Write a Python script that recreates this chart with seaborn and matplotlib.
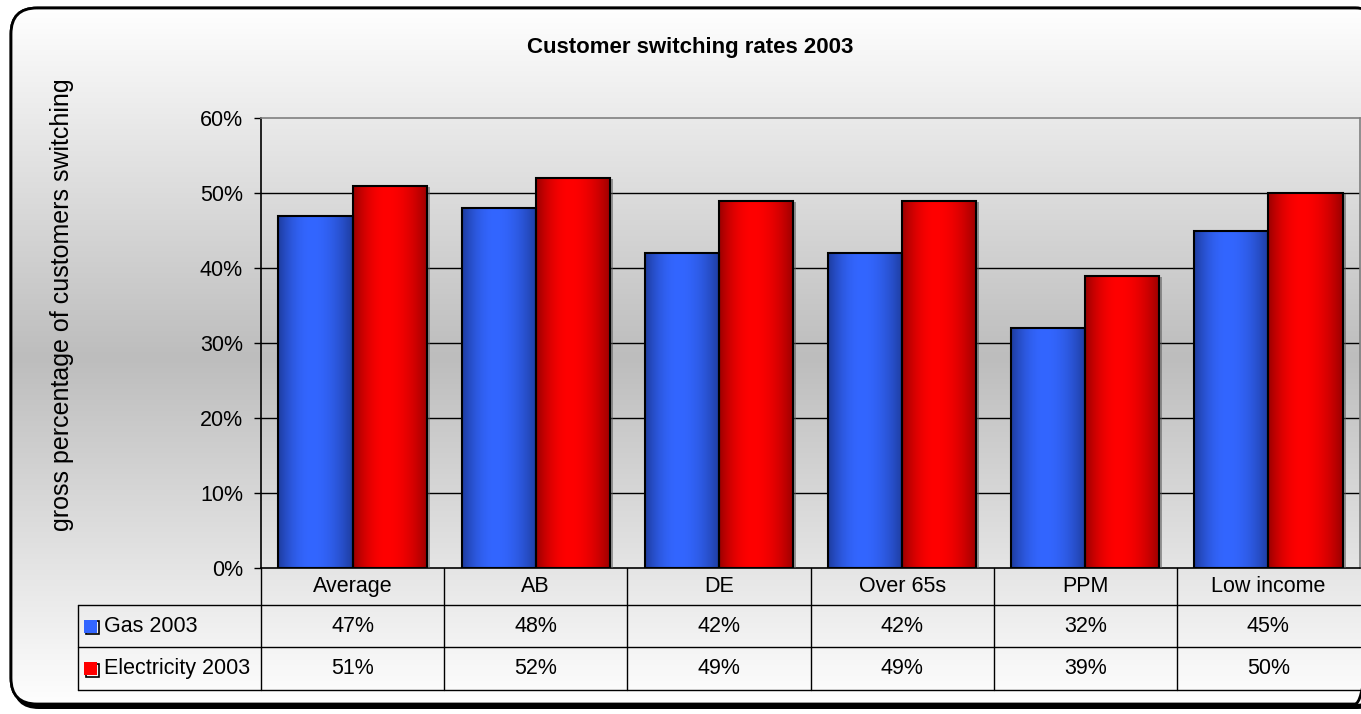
import numpy as np
import pandas as pd
import matplotlib
matplotlib.use("Agg")
import matplotlib.pyplot as plt
import matplotlib.transforms as mtransforms
from matplotlib.patches import FancyBboxPatch, Rectangle
from matplotlib.colors import to_rgb
import seaborn as sns

# ---- data ----
categories = ["Average", "AB", "DE", "Over 65s", "PPM", "Low income"]
series_names = ["Gas 2003", "Electricity 2003"]
gas_2003 = [47, 48, 42, 42, 32, 45]
electricity_2003 = [51, 52, 49, 49, 39, 50]
y_ticks = [0, 10, 20, 30, 40, 50, 60]

title = "Customer switching rates 2003"
y_label = "gross percentage of customers switching"

# ---- style ----
BLUE, BLUE_DARK = "#3366FF", "#1E3C9E"
RED, RED_DARK = "#FF0000", "#9A0000"
W, H = 1361, 714
FS = 15.5

sns.set_theme(style="white")
plt.rcParams["font.family"] = ["Liberation Sans", "DejaVu Sans"]
plt.rcParams["text.color"] = "black"
plt.rcParams["ytick.color"] = "black"
plt.rcParams["xtick.color"] = "black"
plt.rcParams["axes.labelcolor"] = "black"

fig = plt.figure(figsize=(W / 100, H / 100), dpi=100)
fig.patch.set_facecolor("white")

# background canvas in pixel units: rounded frame with a vertical grey gradient
bg = fig.add_axes([0, 0, 1, 1], zorder=0)
bg.set_xlim(0, W)
bg.set_ylim(H, 0)
bg.axis("off")

box = dict(boxstyle="round,pad=0,rounding_size=26")
frame_shadow = FancyBboxPatch((13, 12), 1370, 697, **box, facecolor="black",
                              edgecolor="none", zorder=1)
frame = FancyBboxPatch((11, 8), 1370, 696, **box, facecolor="white",
                       edgecolor="black", linewidth=2, zorder=2)
bg.add_patch(frame_shadow)
bg.add_patch(frame)
rows = np.arange(H)
t = np.clip(1 - np.abs(rows - 357) / 350.0, 0, 1)
gray = (255 - 66 * t) / 255.0
grad_img = np.repeat(gray[:, None, None], 3, axis=2)
im_bg = bg.imshow(grad_img, extent=(0, W, H, 0), aspect="auto", zorder=2.5,
                  interpolation="bilinear")
im_bg.set_clip_path(frame)
frame_edge = FancyBboxPatch((11, 8), 1370, 696, **box, facecolor="none",
                            edgecolor="black", linewidth=2, zorder=3)
bg.add_patch(frame_edge)

# ---- plot area ----
left, right, top, bottom = 261, 1360, 118, 568
ax = fig.add_axes([left / W, 1 - bottom / H, (right - left) / W, (bottom - top) / H],
                  zorder=2)
ax.patch.set_alpha(0)

df = pd.DataFrame({
    "category": categories * 2,
    "series": [s for s in series_names for _ in categories],
    "value": gas_2003 + electricity_2003,
})
sns.barplot(data=df, x="category", y="value", hue="series", order=categories,
            hue_order=series_names, palette=[BLUE, RED], saturation=1,
            edgecolor="black", linewidth=1.5, width=0.81, legend=False,
            errorbar=None, ax=ax, zorder=4)


def cylinder(dark, bright, n=96):
    x = np.linspace(0, 1, n)
    peak = 0.45
    f = np.where(x < peak, 1 - ((peak - x) / peak) ** 2, 1 - ((x - peak) / (1 - peak)) ** 2)
    d, b = np.array(to_rgb(dark)), np.array(to_rgb(bright))
    return (d[None, :] + (b - d)[None, :] * f[:, None])[None, :, :]


shade = [cylinder(BLUE_DARK, BLUE), cylinder(RED_DARK, RED)]
shadow_offset = mtransforms.ScaledTranslation(3 / 100, -1 / 100, fig.dpi_scale_trans)
for container, grad in zip(ax.containers, shade):
    for bar in container:
        x0, w, h = bar.get_x(), bar.get_width(), bar.get_height()
        ax.add_patch(Rectangle((x0, 0), w, h, facecolor="#555555", alpha=0.55,
                               edgecolor="none", zorder=3,
                               transform=ax.transData + shadow_offset))
        img = ax.imshow(grad, extent=(x0, x0 + w, 0, h), aspect="auto",
                        interpolation="bilinear", zorder=3.5)
        img.set_clip_path(bar)
        bar.set_facecolor("none")

for v in y_ticks[1:-1]:
    ax.axhline(v, color="black", linewidth=1, zorder=1)

ax.set_xlim(-0.5, len(categories) - 0.5)
ax.set_ylim(y_ticks[0], y_ticks[-1])
ax.set_yticks(y_ticks)
ax.set_yticklabels([f"{v}%" for v in y_ticks], fontsize=FS, color="black")
ax.tick_params(axis="y", left=True, direction="out", length=5, width=1,
               color="black", pad=8)
ax.set_xticks([])
ax.set_xlabel("")
ax.set_ylabel("")
for side in ["left", "bottom"]:
    ax.spines[side].set_color("black")
    ax.spines[side].set_linewidth(1.2)
for side in ["top", "right"]:
    ax.spines[side].set_color("#808080")
    ax.spines[side].set_linewidth(1.2)

# ---- data table under the axis ----
tt = mtransforms.blended_transform_factory(ax.transData, ax.transAxes)
plot_h = bottom - top
row_edges = [(bottom - p) / plot_h for p in (568, 605, 647, 690)]
x_left = -1.5
x_right = len(categories) - 0.5
line_kw = dict(color="black", linewidth=1, transform=tt, clip_on=False, zorder=5)

for y in row_edges[1:]:
    ax.plot([x_left, x_right], [y, y], **line_kw)
ax.plot([x_left, x_left], [row_edges[1], row_edges[3]], **line_kw)
for i in range(len(categories)):
    ax.plot([i - 0.5, i - 0.5], [row_edges[0], row_edges[3]], **line_kw)

mid = [(row_edges[k] + row_edges[k + 1]) / 2 for k in range(3)]
for i, cat in enumerate(categories):
    ax.text(i, mid[0], cat, ha="center", va="center", fontsize=FS,
            transform=tt, clip_on=False, color="black")
for row, values in zip(mid[1:], [gas_2003, electricity_2003]):
    for i, v in enumerate(values):
        ax.text(i, row, f"{v}%", ha="center", va="center", fontsize=FS,
                transform=tt, clip_on=False, color="black")

key_w = 13 / ((right - left) / len(categories))
key_h = 13 / plot_h
shadow_key = mtransforms.ScaledTranslation(1.5 / 100, -1.5 / 100, fig.dpi_scale_trans)
for row, name, col in zip(mid[1:], series_names, [BLUE, RED]):
    ax.add_patch(Rectangle((x_left + 0.035, row - key_h / 2), key_w, key_h,
                           facecolor="none", edgecolor="black", linewidth=1.2,
                           transform=tt + shadow_key, clip_on=False, zorder=6))
    ax.add_patch(Rectangle((x_left + 0.035, row - key_h / 2), key_w, key_h,
                           facecolor=col, edgecolor="none",
                           transform=tt, clip_on=False, zorder=6))
    ax.text(x_left + 0.145, row, name, ha="left", va="center", fontsize=FS,
            transform=tt, clip_on=False, color="black")

# ---- titles ----
fig.text(690 / W, 1 - 47 / H, title, ha="center", va="center", fontsize=16,
         fontweight="bold", color="black")
fig.text(62 / W, 1 - 305 / H, y_label, ha="center", va="center", fontsize=18,
         rotation=90, color="black")

fig.savefig("out.png", dpi=100)
